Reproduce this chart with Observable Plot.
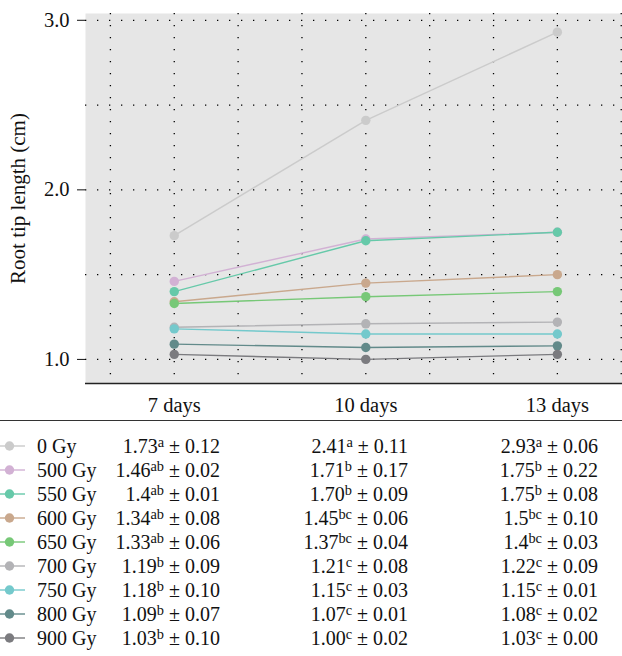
<!DOCTYPE html>
<html>
<head>
<meta charset="utf-8">
<script src="https://cdn.jsdelivr.net/npm/d3@7"></script>
<script src="https://cdn.jsdelivr.net/npm/@observablehq/plot@0.6"></script>
<style>
  html, body { margin: 0; padding: 0; background: #fff; }
  body { width: 622px; font-family: "Liberation Serif", serif; }
  #chart svg { display: block; }
  #table { position: relative; width: 622px; height: 231px; border-top: 1.5px solid #333; }
  .row { position: absolute; left: 0; width: 622px; height: 24px; font-size: 20px; line-height: 24px; color: #111; }
  .cell { position: absolute; top: 0; white-space: nowrap; }
  .num { text-align: right; }
  sup { font-size: 0.72em; vertical-align: 0; position: relative; top: -0.42em; line-height: 0; }
  .sym { position: absolute; left: 0; top: 0; }
</style>
</head>
<body>
<div id="chart"></div>
<div id="table"></div>
<script>
const days = [7, 10, 13];
const dayLabels = ["7 days", "10 days", "13 days"];
const doses = ["0 Gy", "500 Gy", "550 Gy", "600 Gy", "650 Gy", "700 Gy", "750 Gy", "800 Gy", "900 Gy"];
const colors = ["#cbcbcb", "#d2b1d4", "#66c9a9", "#c9a88d", "#77c877", "#b3b3b6", "#74c9cc", "#628a8a", "#7b7b7f"];
const mean7 = ["1.73", "1.46", "1.4", "1.34", "1.33", "1.19", "1.18", "1.09", "1.03"];
const mean10 = ["2.41", "1.71", "1.70", "1.45", "1.37", "1.21", "1.15", "1.07", "1.00"];
const mean13 = ["2.93", "1.75", "1.75", "1.5", "1.4", "1.22", "1.15", "1.08", "1.03"];
const letter7 = ["a", "ab", "ab", "ab", "ab", "b", "b", "b", "b"];
const letter10 = ["a", "b", "b", "bc", "bc", "c", "c", "c", "c"];
const letter13 = ["a", "b", "b", "bc", "bc", "c", "c", "c", "c"];
const sd7 = ["0.12", "0.02", "0.01", "0.08", "0.06", "0.09", "0.10", "0.07", "0.10"];
const sd10 = ["0.11", "0.17", "0.09", "0.06", "0.04", "0.08", "0.03", "0.01", "0.02"];
const sd13 = ["0.06", "0.22", "0.08", "0.10", "0.03", "0.09", "0.01", "0.02", "0.00"];
const yTicks = [1, 2, 3];
const yGrid = [1, 1.5, 2, 2.5, 3];
const xGrid = [6, 7, 8, 9, 10, 11, 12, 13, 14];

const means = [mean7, mean10, mean13];
const rows = [];
doses.forEach((dose, i) => {
  days.forEach((day, j) => rows.push({dose, day, value: +means[j][i]}));
});

const yDomain = [0.858, 3.04];
const xDomain = [5.61, 14.02];
const dots = "1.3,10.7";

const chart = Plot.plot({
  width: 622,
  height: 420,
  marginLeft: 85,
  marginRight: 0,
  marginTop: 13,
  marginBottom: 37,
  style: {fontFamily: "'Liberation Serif', serif", fontSize: "20px", color: "#111", background: "transparent"},
  x: {domain: xDomain},
  y: {domain: yDomain},
  color: {domain: doses, range: colors},
  marks: [
    Plot.frame({fill: "#e6e6e6", stroke: null}),
    Plot.gridX(xGrid, {stroke: "#000", strokeOpacity: 1, strokeWidth: 1.3, strokeDasharray: dots}),
    Plot.gridY(yGrid, {stroke: "#000", strokeOpacity: 1, strokeWidth: 1.3, strokeDasharray: dots}),
    Plot.ruleY([yDomain[0]], {stroke: "#222", strokeWidth: 1.6}),
    Plot.axisY(yTicks, {tickFormat: d => d.toFixed(1), tickSize: 8, tickPadding: 8, label: null, fontSize: 20.5}),
    Plot.axisY({label: "Root tip length (cm)", labelAnchor: "center", labelArrow: "none", labelOffset: 75, ticks: [], tickSize: 0, fontSize: 21}),
    Plot.axisX(days, {tickFormat: d => dayLabels[days.indexOf(d)], tickSize: 0, tickPadding: 14, label: null, fontSize: 20.5}),
    Plot.line(rows, {x: "day", y: "value", z: "dose", stroke: "dose", strokeWidth: 1.4}),
    Plot.dot(rows, {x: "day", y: "value", fill: "dose", r: 4.7})
  ]
});
document.getElementById("chart").appendChild(chart);

// table
const table = document.getElementById("table");
const letters = [letter7, letter10, letter13];
const sds = [sd7, sd10, sd13];
const colRight = [622 - 220, 622 - 408, 622 - 598];
doses.forEach((dose, i) => {
  const row = document.createElement("div");
  row.className = "row";
  row.style.top = (13 + i * 24) + "px";
  const sym = d3.create("svg").attr("class", "sym").attr("width", 30).attr("height", 24);
  sym.append("line").attr("x1", 0).attr("x2", 25).attr("y1", 12).attr("y2", 12).attr("stroke", colors[i]).attr("stroke-width", 1.4);
  sym.append("circle").attr("cx", 9.5).attr("cy", 12).attr("r", 4.7).attr("fill", colors[i]);
  row.appendChild(sym.node());
  const lab = document.createElement("span");
  lab.className = "cell";
  lab.style.left = "37px";
  lab.textContent = dose;
  row.appendChild(lab);
  for (let j = 0; j < 3; j++) {
    const c = document.createElement("span");
    c.className = "cell num";
    c.style.right = colRight[j] + "px";
    c.innerHTML = `${means[j][i]}<sup>${letters[j][i]}</sup> ± ${sds[j][i]}`;
    row.appendChild(c);
  }
  table.appendChild(row);
});
</script>
</body>
</html>
